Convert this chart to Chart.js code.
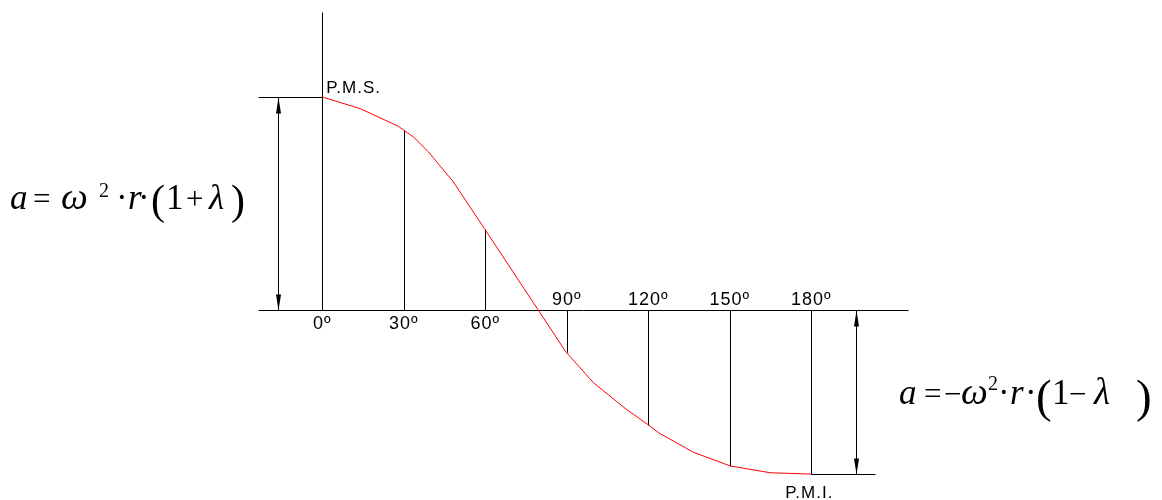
<!DOCTYPE html>
<html>
<head>
<meta charset="utf-8">
<script src="https://cdn.jsdelivr.net/npm/chart.js@4.4.1/dist/chart.umd.min.js"></script>
<style>
  html, body { margin: 0; padding: 0; background: #fff; }
</style>
</head>
<body>
<canvas id="myChart" width="1162" height="500"></canvas>
<script>
// crank angle (deg) and piston acceleration a / (w^2 * r)
const angles = [0, 14, 28, 33.6, 39.1, 48.3, 59.7, 89.7, 99.9, 111.5, 120.1, 123.8, 136.7, 150.2, 164.9, 180];
const accel = [1.129, 1.067, 0.974, 0.917, 0.838, 0.679, 0.432, -0.221, -0.385, -0.520, -0.608, -0.649, -0.753, -0.825, -0.861, -0.868];

const markAngles = [0, 30, 60, 90, 120, 150, 180];
const markValues = [1.129, 0.955, 0.430, -0.221, -0.608, -0.825, -0.868];
const markLabels = ["0º", "30º", "60º", "90º", "120º", "150º", "180º"];

const serif = "'Liberation Serif', 'Times New Roman', serif";

// [text, x, baseline offset, font]
const leftFormula = [
    ["a", 10, 0, "italic 35px"], ["=", 33, 0, "31px"], ["ω", 61, 0, "italic 38px"],
    ["2", 99, -12, "20px"], ["·", 116, 0, "35px"], ["r", 128, 0, "italic 35px"],
    ["·", 138, 0, "35px"], ["(", 151, 5, "42px"], ["1", 166, 0, "35px"],
    ["+", 186, 0, "31px"], ["λ", 209, 0, "italic 35px"], [")", 231, 5, "42px"]
];
const rightFormula = [
    ["a", 899, 0, "italic 35px"], ["=", 924, 0, "31px"], ["−", 944, 0, "31px"],
    ["ω", 961, 0, "italic 38px"], ["2", 988, -14, "20px"], ["·", 998, 0, "35px"],
    ["r", 1010, 0, "italic 35px"], ["·", 1025, 0, "35px"], ["(", 1036, 8, "47px"],
    ["1", 1052, 0, "35px"], ["−", 1069, 0, "31px"], ["λ", 1094, 0, "italic 37px"],
    [")", 1136, 8, "47px"]
];

const sketch = {
    id: "sketch",
    beforeDatasetsDraw(chart) {
        const ctx = chart.ctx;
        const x = chart.scales.x, y = chart.scales.y;
        const px = v => Math.round(x.getPixelForValue(v)) + 0.5;
        const py = v => Math.round(y.getPixelForValue(v)) + 0.5;
        const seg = (x1, y1, x2, y2) => {
            ctx.beginPath();
            ctx.moveTo(px(x1), py(y1));
            ctx.lineTo(px(x2), py(y2));
            ctx.stroke();
        };
        const arrow = (xv, yFrom, yTo) => {
            // dimension line with heads at both ends
            seg(xv, yFrom, xv, yTo);
            [[yFrom, yTo], [yTo, yFrom]].forEach(([a, b]) => {
                const tip = py(b), dir = Math.sign(py(b) - py(a));
                ctx.beginPath();
                ctx.moveTo(px(xv), tip);
                ctx.lineTo(px(xv) - 2.5, tip - dir * 16);
                ctx.lineTo(px(xv) + 2.5, tip - dir * 16);
                ctx.closePath();
                ctx.fill();
            });
        };
        ctx.save();
        ctx.strokeStyle = "#000";
        ctx.fillStyle = "#000";
        ctx.lineWidth = 1;
        seg(-23.5, 0, 215.5, 0);
        seg(0, 0, 0, 1.58);
        markAngles.forEach((a, i) => { if (i > 0) seg(a, 0, a, markValues[i]); });
        seg(-23.5, markValues[0], 0, markValues[0]);
        seg(180, markValues[6], 203.5, markValues[6]);
        arrow(-16.2, 0, markValues[0]);
        arrow(196.4, 0, markValues[6]);
        ctx.restore();
    },
    afterDraw(chart) {
        const ctx = chart.ctx;
        const x = chart.scales.x, y = chart.scales.y;
        const zero = y.getPixelForValue(0);
        ctx.save();
        ctx.fillStyle = "#000";
        ctx.font = "18px 'Liberation Sans', sans-serif";
        ctx.letterSpacing = "1px";
        ctx.textAlign = "center";
        markLabels.forEach((t, i) => {
            const xp = x.getPixelForValue(markAngles[i]);
            if (i < 3) {
                ctx.textBaseline = "top";
                ctx.fillText(t, xp, zero + 5);
            } else {
                ctx.textBaseline = "alphabetic";
                ctx.fillText(t, xp, zero - 5);
            }
        });
        ctx.font = "17px 'Liberation Sans', sans-serif";
        ctx.textAlign = "left";
        ctx.textBaseline = "alphabetic";
        ctx.fillText("P.M.S.", x.getPixelForValue(0) + 4, y.getPixelForValue(markValues[0]) - 4);
        ctx.fillText("P.M.I.", x.getPixelForValue(180) - 26, y.getPixelForValue(markValues[6]) + 24);

        ctx.letterSpacing = "0px";
        const drawFormula = (parts, base) => {
            parts.forEach(([t, xp, dy, f]) => {
                ctx.font = f + " " + serif;
                ctx.fillText(t, xp, base + dy);
            });
        };
        drawFormula(leftFormula, 209);
        drawFormula(rightFormula, 404);
        ctx.restore();
    }
};

new Chart("myChart", {
    type: "line",
    data: {
        datasets: [{
            data: angles.map((a, i) => ({ x: a, y: accel[i] })),
            borderColor: "#ff0000",
            borderWidth: 1,
            pointRadius: 0,
            tension: 0,
            fill: false
        }]
    },
    options: {
        responsive: false,
        animation: false,
        devicePixelRatio: 1,
        layout: { padding: { left: 257, right: 253, top: 8, bottom: 1 } },
        plugins: { legend: { display: false }, tooltip: { enabled: false } },
        scales: {
            x: { type: "linear", min: -24, max: 216, display: false },
            y: { type: "linear", min: -1, max: 1.6, display: false }
        }
    },
    plugins: [sketch]
});
</script>
</body>
</html>
